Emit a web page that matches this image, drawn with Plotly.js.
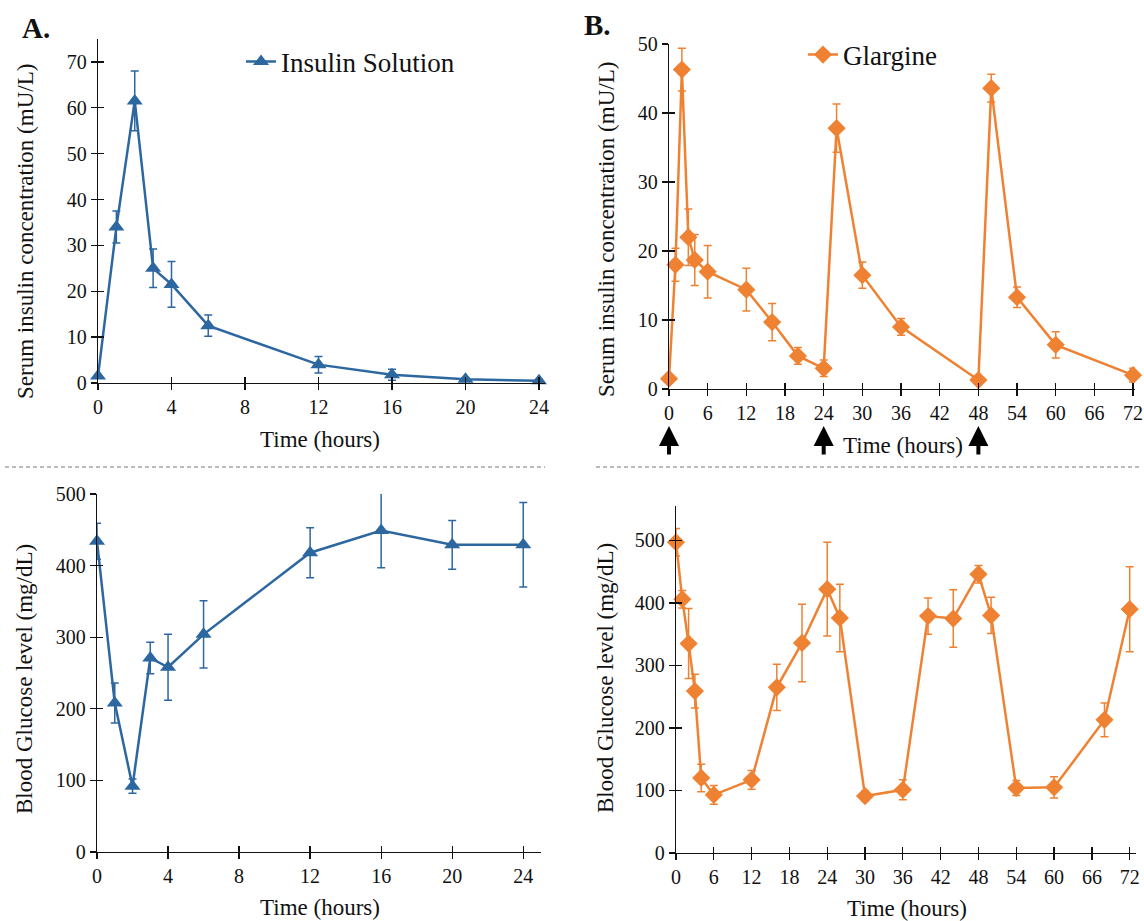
<!DOCTYPE html>
<html>
<head>
<meta charset="utf-8">
<script src="https://cdn.plot.ly/plotly-3.0.1.min.js"></script>
<style>html,body{margin:0;padding:0;background:#fff;}#chart{width:1144px;height:921px;}</style>
</head>
<body>
<div id="chart"></div>
<script>
// ---------- Data ----------
// Panel A: Insulin Solution
const tInsulin = [0, 1, 2, 3, 4, 6, 12, 16, 20, 24];
const insulinConc = [1.5, 34, 61.5, 25, 21.5, 12.5, 4, 1.8, 0.8, 0.5];
const insulinConcErr = [0.3, 3.5, 6.5, 4.2, 5, 2.3, 1.8, 1.2, 0.4, 0.3];
const insulinGlucose = [434, 208, 92, 271, 258, 304, 418, 449, 429, 429];
const insulinGlucoseErr = [25, 28, 10, 22, 46, 47, 35, 52, 34, 59];

// Panel B: Glargine
const tGlargineConc = [0, 1, 2, 3, 4, 6, 12, 16, 20, 24, 26, 30, 36, 48, 50, 54, 60, 72];
const glargineConc = [1.5, 18, 46.3, 22, 18.7, 17, 14.4, 9.7, 4.8, 3, 37.8, 16.5, 9, 1.3, 43.6, 13.3, 6.4, 2];
const glargineConcErr = [0.2, 2.4, 3.1, 4.1, 3.7, 3.8, 3.1, 2.7, 1.2, 1.2, 3.5, 1.9, 1.2, 0.2, 2, 1.5, 1.9, 1];
const tGlargineGlu = [0, 1, 2, 3, 4, 6, 12, 16, 20, 24, 26, 30, 36, 40, 44, 48, 50, 54, 60, 68, 72];
const glargineGlucose = [497, 406, 335, 259, 120, 93, 117, 265, 336, 422, 376, 91, 101, 379, 375, 446, 380, 104, 105, 213, 390];
const glargineGlucoseErr = [22, 14, 56, 27, 22, 15, 15, 37, 62, 75, 54, 8, 16, 29, 46, 14, 29, 12, 17, 27, 68];

const doseTimes = [0, 24, 48];

const ticksA = [0, 4, 8, 12, 16, 20, 24];
const ticksB = [0, 6, 12, 18, 24, 30, 36, 42, 48, 54, 60, 66, 72];
const ticksConcA = [0, 10, 20, 30, 40, 50, 60, 70];
const ticksConcB = [0, 10, 20, 30, 40, 50];
const ticksGlu = [0, 100, 200, 300, 400, 500];

// ---------- Style ----------
const W = 1144, H = 921;
const BLUE = '#2d67a0';
const ORANGE = '#ef8232';
const FONT = 'Liberation Serif, Times New Roman, serif';
const px = v => v / W;
const py = v => (H - v) / H;

function series(x, y, err, color, symbol, size, xa, ya, name, legend, showlegend) {
  return {
    x: x, y: y, xaxis: xa, yaxis: ya, name: name, legend: legend, showlegend: showlegend,
    type: 'scatter', mode: 'lines+markers', cliponaxis: false,
    line: {color: color, width: 2.5},
    marker: {color: color, symbol: symbol, size: size},
    error_y: {type: 'data', array: err, visible: true, color: color, thickness: 1.5, width: 4}
  };
}
// empty helper traces so that the overlaid (inner-tick) axes are drawn
function helper(xa, ya) {
  return {x: [], y: [], xaxis: xa, yaxis: ya, type: 'scatter', mode: 'markers', showlegend: false, hoverinfo: 'skip'};
}

const data = [
  series(tInsulin, insulinConc, insulinConcErr, BLUE, 'triangle-up', 14, 'x', 'y', 'Insulin Solution', 'legend', true),
  series(tGlargineConc, glargineConc, glargineConcErr, ORANGE, 'diamond', 14, 'x2', 'y2', 'Glargine', 'legend2', true),
  series(tInsulin, insulinGlucose, insulinGlucoseErr, BLUE, 'triangle-up', 14, 'x3', 'y3', 'Insulin Solution', 'legend', false),
  series(tGlargineGlu, glargineGlucose, glargineGlucoseErr, ORANGE, 'diamond', 14, 'x4', 'y4', 'Glargine', 'legend2', false),
  helper('x5', 'y'), helper('x', 'y5'),
  helper('x6', 'y2'), helper('x2', 'y6'),
  helper('x7', 'y3'), helper('x3', 'y7'),
  helper('x8', 'y4'), helper('x4', 'y8')
];

const tickFont = {family: FONT, size: 20, color: '#111'};
function axis(domain, range, tickvals, anchor) {
  return {domain: domain, range: range, anchor: anchor, tickvals: tickvals, ticktext: tickvals.map(String),
    ticks: 'outside', ticklen: 6, tickwidth: 1.3, tickcolor: '#111', ticklabeloverflow: 'allow',
    showline: true, linecolor: '#111', linewidth: 1.3, showgrid: false, zeroline: false,
    tickfont: tickFont, fixedrange: true};
}
function innerTicks(overlay, anchor, range, tickvals) {
  return {overlaying: overlay, anchor: anchor, range: range, tickvals: tickvals,
    ticks: 'inside', ticklen: 6, tickwidth: 1.3, tickcolor: '#111',
    showticklabels: false, showline: false, showgrid: false, zeroline: false, fixedrange: true};
}

const dTL = {x: [px(98), px(544.5)], y: [py(383), py(39)]};
const dTR = {x: [px(669), px(1135)], y: [py(389), py(44)]};
const dBL = {x: [px(97), px(541)], y: [py(852), py(494)]};
const dBR = {x: [px(676), px(1136)], y: [py(853), py(506)]};

const rTLx = [0, 24.3], rTLy = [0, 75];
const rTRx = [0, 72.3], rTRy = [0, 50];
const rBLx = [0, 25], rBLy = [0, 500];
const rBRx = [0, 73], rBRy = [0, 555];

const titleFont = {family: FONT, size: 23, color: '#111'};
function ann(text, x, y, angle, font) {
  return {text: text, x: px(x), y: py(y), xref: 'paper', yref: 'paper', showarrow: false,
    textangle: angle || 0, font: font || titleFont, xanchor: 'center', yanchor: 'middle'};
}

const annotations = [
  ann('Time (hours)', 320, 439),
  ann('Time (hours)', 903, 445),
  ann('Time (hours)', 320, 907),
  ann('Time (hours)', 907, 908),
  ann('Serum insulin concentration (mU/L)', 25, 232, -90),
  ann('Serum insulin concentration (mU/L)', 606, 230, -90),
  ann('Blood Glucose level (mg/dL)', 24, 679, -90),
  ann('Blood Glucose level (mg/dL)', 605, 678, -90),
  ann('<b>A.</b>', 36, 28, 0, {family: FONT, size: 29, color: '#111'}),
  ann('<b>B.</b>', 597, 25, 0, {family: FONT, size: 29, color: '#111'})
];
doseTimes.forEach(t => annotations.push({
  x: t, xref: 'x2', y: py(426), yref: 'paper', text: '', showarrow: true,
  ax: 0, ay: 30, arrowhead: 2, arrowsize: 1, arrowwidth: 4, arrowcolor: '#000'
}));

const legendFont = {family: FONT, size: 27, color: '#111'};
const layout = {
  width: W, height: H, margin: {l: 0, r: 0, t: 0, b: 0},
  paper_bgcolor: '#fff', plot_bgcolor: 'rgba(0,0,0,0)',
  font: {family: FONT, color: '#111'},
  xaxis: axis(dTL.x, rTLx, ticksA, 'y'),
  yaxis: axis(dTL.y, rTLy, ticksConcA, 'x'),
  xaxis2: axis(dTR.x, rTRx, ticksB, 'y2'),
  yaxis2: axis(dTR.y, rTRy, ticksConcB, 'x2'),
  xaxis3: axis(dBL.x, rBLx, ticksA, 'y3'),
  yaxis3: axis(dBL.y, rBLy, ticksGlu, 'x3'),
  xaxis4: axis(dBR.x, rBRx, ticksB, 'y4'),
  yaxis4: axis(dBR.y, rBRy, ticksGlu, 'x4'),
  xaxis5: innerTicks('x', 'y', rTLx, ticksA),
  yaxis5: innerTicks('y', 'x', rTLy, ticksConcA),
  xaxis6: innerTicks('x2', 'y2', rTRx, ticksB),
  yaxis6: innerTicks('y2', 'x2', rTRy, ticksConcB),
  xaxis7: innerTicks('x3', 'y3', rBLx, ticksA),
  yaxis7: innerTicks('y3', 'x3', rBLy, ticksGlu),
  xaxis8: innerTicks('x4', 'y4', rBRx, ticksB),
  yaxis8: innerTicks('y4', 'x4', rBRy, ticksGlu),
  legend: {x: px(241), y: py(62), xanchor: 'left', yanchor: 'middle', bgcolor: 'rgba(0,0,0,0)', font: legendFont},
  legend2: {x: px(803), y: py(55), xanchor: 'left', yanchor: 'middle', bgcolor: 'rgba(0,0,0,0)', font: legendFont},
  annotations: annotations,
  shapes: [
    {type: 'line', xref: 'paper', yref: 'paper', x0: px(5), x1: px(545), y0: py(467), y1: py(467),
      line: {color: '#777', width: 1, dash: '4px,3px'}},
    {type: 'line', xref: 'paper', yref: 'paper', x0: px(596), x1: px(1141), y0: py(467), y1: py(467),
      line: {color: '#777', width: 1, dash: '4px,3px'}}
  ],
  showlegend: true
};

Plotly.newPlot('chart', data, layout, {displayModeBar: false, staticPlot: true});
</script>
</body>
</html>
